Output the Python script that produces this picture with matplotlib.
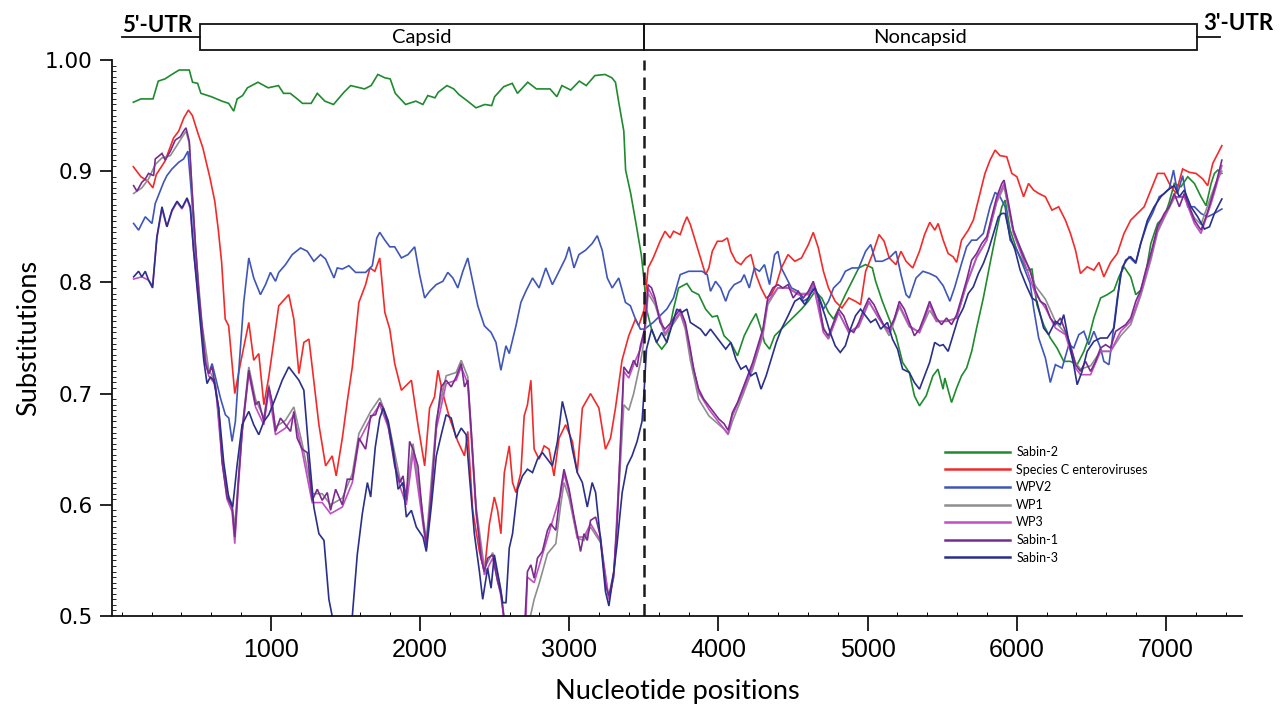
import matplotlib
matplotlib.use("Agg")
import matplotlib.pyplot as plt
from matplotlib.patches import Rectangle
from matplotlib.ticker import MultipleLocator
from matplotlib import font_manager

# ---------------- data (nucleotide position, substitution value) ----------------
sabin2 = [(78,.962),(129,.965),(210,.965),(245,.981),(290,.983),(336,.987),(385,.991),(453,.991),(475,.980),(509,.979),
(531,.970),(601,.967),(672,.963),(717,.961),(751,.954),(774,.965),(810,.968),(843,.975),(913,.980),(982,.975),
(1051,.977),(1085,.970),(1130,.970),(1177,.965),(1212,.961),(1270,.961),(1311,.970),(1362,.963),(1420,.960),(1490,.971),
(1535,.977),(1628,.974),(1672,.977),(1717,.987),(1764,.984),(1800,.983),(1834,.970),(1903,.960),(1972,.963),(2019,.960),
(2052,.968),(2100,.966),(2122,.971),(2180,.977),(2226,.974),(2260,.969),(2319,.963),(2375,.957),(2434,.960),(2480,.959),
(2500,.967),(2561,.976),(2618,.979),(2653,.970),(2722,.980),(2780,.974),(2871,.974),(2917,.967),(2951,.977),(3010,.973),
(3068,.981),(3114,.977),(3172,.986),(3240,.987),(3286,.984),(3310,.980),(3332,.962),(3366,.936),(3378,.901),(3412,.880),
(3445,.855),(3483,.825),(3500,.804),(3518,.776),(3552,.758),(3586,.746),(3620,.740),(3654,.746),(3699,.776),(3733,.795),
(3789,.799),(3823,.792),(3868,.789),(3914,.776),(3959,.769),(3993,.770),(4038,.752),(4083,.746),(4128,.734),(4173,.752),
(4218,.764),(4252,.772),(4286,.758),(4309,.746),(4343,.740),(4377,.752),(4422,.758),(4467,.764),(4512,.770),(4557,.776),
(4602,.783),(4648,.792),(4693,.786),(4738,.773),(4772,.767),(4806,.776),(4851,.789),(4896,.801),(4941,.813),(4986,.816),
(5032,.813),(5054,.801),(5099,.783),(5145,.767),(5190,.752),(5235,.728),(5280,.719),(5314,.698),(5348,.689),(5393,.698),
(5438,.716),(5472,.722),(5506,.704),(5518,.714),(5563,.692),(5597,.705),(5630,.716),(5664,.723),(5698,.738),(5731,.759),
(5776,.786),(5821,.817),(5866,.847),(5900,.868),(5922,.874),(5956,.847),(6001,.829),(6068,.811),(6102,.812),(6135,.780),
(6180,.762),(6225,.750),(6270,.741),(6315,.729),(6360,.729),(6405,.726),(6450,.738),(6483,.750),(6517,.768),(6562,.786),
(6607,.789),(6652,.793),(6685,.805),(6719,.814),(6764,.805),(6798,.789),(6831,.793),(6865,.808),(6899,.835),(6944,.853),
(6989,.859),(7022,.872),(7056,.889),(7101,.886),(7146,.895),(7191,.889),(7235,.877),(7269,.869),(7303,.889),(7325,.898),
(7348,.901),(7375,.898)]

species_c = [(78,.904),(129,.895),(175,.891),(209,.885),(232,.897),(290,.909),(348,.930),(382,.936),(417,.948),(447,.955),
(474,.950),(509,.935),(544,.921),(590,.895),(624,.873),(647,.848),(670,.818),(694,.767),(717,.761),(758,.700),
(796,.727),(852,.764),(885,.730),(919,.736),(953,.690),(986,.715),(1053,.779),(1120,.789),(1154,.767),(1188,.718),
(1221,.746),(1255,.749),(1277,.724),(1322,.672),(1367,.635),(1411,.644),(1438,.626),(1479,.660),(1512,.693),(1546,.724),
(1590,.782),(1635,.798),(1664,.813),(1697,.810),(1730,.822),(1764,.773),(1797,.758),(1830,.727),(1875,.703),(1942,.712),
(1986,.672),(2031,.635),(2064,.687),(2097,.697),(2120,.721),(2153,.700),(2198,.678),(2253,.657),(2298,.644),(2320,.666),
(2353,.595),(2398,.558),(2431,.540),(2465,.583),(2498,.607),(2520,.595),(2542,.574),(2565,.629),(2598,.653),(2620,.620),
(2643,.611),(2676,.629),(2698,.680),(2720,.690),(2743,.712),(2765,.650),(2798,.641),(2832,.653),(2865,.650),(2898,.626),
(2932,.660),(2976,.672),(3021,.657),(3054,.629),(3088,.687),(3143,.700),(3199,.687),(3243,.650),(3277,.660),(3310,.687),
(3354,.730),(3399,.752),(3444,.767),(3466,.761),(3501,.775),(3529,.813),(3563,.822),(3609,.837),(3642,.846),(3676,.840),
(3699,.846),(3744,.843),(3767,.852),(3789,.859),(3812,.852),(3846,.837),(3880,.822),(3914,.807),(3936,.813),(3959,.828),
(3993,.837),(4026,.837),(4060,.840),(4083,.828),(4117,.819),(4151,.816),(4185,.822),(4218,.825),(4252,.807),(4286,.795),
(4320,.786),(4354,.789),(4388,.798),(4422,.813),(4467,.825),(4512,.819),(4557,.822),(4603,.834),(4636,.845),(4670,.831),
(4704,.810),(4738,.795),(4783,.783),(4828,.777),(4874,.786),(4919,.783),(4953,.780),(4987,.810),(5032,.825),(5077,.843),
(5111,.837),(5145,.822),(5190,.816),(5224,.828),(5258,.819),(5303,.813),(5348,.828),(5382,.843),(5417,.854),(5451,.847),
(5473,.853),(5507,.838),(5540,.826),(5574,.823),(5597,.818),(5630,.838),(5675,.847),(5709,.856),(5754,.880),(5787,.898),
(5821,.910),(5855,.919),(5888,.914),(5933,.913),(5967,.898),(6001,.895),(6046,.877),(6079,.889),(6113,.883),(6147,.880),
(6192,.877),(6236,.865),(6281,.868),(6326,.856),(6360,.844),(6394,.829),(6427,.808),(6472,.814),(6517,.811),(6551,.818),
(6584,.805),(6629,.818),(6674,.826),(6719,.844),(6764,.856),(6809,.862),(6854,.868),(6899,.883),(6944,.898),(6989,.898),
(7022,.889),(7067,.880),(7112,.902),(7157,.899),(7202,.898),(7247,.893),(7280,.887),(7314,.907),(7375,.923)]

wpv2 = [(80,.853),(113,.847),(158,.859),(203,.853),(225,.871),(281,.890),(303,.896),(337,.902),(382,.908),(415,.911),
(444,.918),(467,.881),(494,.829),(527,.773),(561,.730),(583,.718),(606,.727),(628,.715),(662,.696),(695,.681),
(718,.678),(740,.657),(762,.675),(785,.721),(818,.782),(852,.822),(885,.804),(930,.789),(964,.798),(997,.809),
(1031,.801),(1053,.809),(1098,.816),(1143,.825),(1199,.831),(1244,.828),(1288,.819),(1333,.825),(1367,.821),(1423,.804),
(1445,.813),(1479,.812),(1523,.815),(1568,.809),(1635,.809),(1680,.815),(1710,.840),(1730,.845),(1764,.838),(1797,.832),
(1830,.832),(1875,.822),(1919,.825),(1964,.832),(1997,.807),(2031,.786),(2064,.792),(2108,.798),(2153,.801),(2186,.809),
(2220,.804),(2253,.795),(2287,.810),(2320,.822),(2353,.801),(2387,.779),(2431,.761),(2476,.755),(2509,.746),(2542,.721),
(2576,.743),(2598,.736),(2643,.761),(2676,.782),(2709,.792),(2754,.804),(2798,.795),(2843,.813),(2887,.798),(2932,.810),
(2976,.822),(2999,.832),(3032,.813),(3065,.825),(3110,.829),(3154,.835),(3188,.842),(3221,.829),(3255,.804),(3288,.795),
(3332,.804),(3377,.782),(3410,.779),(3444,.767),(3477,.758),(3505,.758),(3563,.764),(3609,.770),(3654,.776),(3699,.786),
(3744,.807),(3801,.810),(3891,.810),(3925,.807),(3947,.792),(3981,.801),(4015,.795),(4049,.783),(4072,.792),(4106,.798),
(4151,.801),(4173,.807),(4207,.795),(4241,.813),(4275,.810),(4309,.816),(4343,.798),(4377,.825),(4399,.828),(4422,.813),
(4456,.804),(4490,.795),(4535,.792),(4569,.783),(4603,.786),(4636,.795),(4670,.789),(4704,.776),(4738,.783),(4772,.795),
(4817,.801),(4851,.810),(4896,.813),(4941,.813),(4987,.828),(5021,.834),(5054,.819),(5099,.819),(5145,.822),(5190,.828),
(5224,.807),(5258,.789),(5280,.786),(5325,.804),(5371,.810),(5416,.808),(5462,.805),(5507,.797),(5552,.783),(5585,.796),
(5630,.817),(5664,.832),(5698,.838),(5731,.838),(5776,.844),(5821,.868),(5855,.881),(5888,.877),(5922,.868),(5956,.838),
(6001,.829),(6046,.814),(6090,.799),(6113,.777),(6147,.750),(6192,.732),(6225,.710),(6259,.726),(6304,.723),(6349,.744),
(6382,.741),(6416,.753),(6450,.756),(6483,.744),(6517,.756),(6562,.741),(6584,.729),(6618,.726),(6641,.750),(6674,.786),
(6708,.814),(6753,.823),(6798,.817),(6831,.835),(6876,.853),(6910,.862),(6955,.877),(6989,.880),(7022,.884),(7051,.901),
(7078,.880),(7112,.896),(7146,.868),(7191,.868),(7235,.862),(7280,.859),(7325,.862),(7375,.866)]

wp1 = [(80,.880),(135,.885),(180,.893),(225,.906),(270,.912),(326,.914),(393,.928),(431,.936),(453,.925),(494,.833),
(538,.763),(583,.722),(628,.710),(673,.645),(706,.612),(740,.600),(758,.580),(780,.620),(807,.668),(852,.724),
(897,.695),(953,.678),(986,.708),(1031,.670),(1098,.676),(1154,.688),(1210,.655),(1277,.610),(1344,.610),(1400,.600),
(1479,.606),(1546,.628),(1590,.664),(1669,.684),(1730,.696),(1786,.676),(1864,.624),(1908,.610),(1953,.655),(2020,.590),
(2042,.568),(2109,.676),(2175,.716),(2242,.719),(2276,.730),(2320,.715),(2376,.598),(2431,.543),(2487,.557),(2542,.524),
(2565,.497),(2600,.470),(2700,.470),(2740,.500),(2765,.515),(2800,.530),(2854,.556),(2910,.565),(2943,.600),(2965,.620),
(2999,.606),(3054,.570),(3099,.568),(3143,.580),(3210,.566),(3266,.515),(3299,.535),(3344,.640),(3366,.690),(3399,.685),
(3432,.700),(3477,.728),(3505,.750),(3529,.790),(3575,.780),(3642,.752),(3710,.765),(3744,.772),(3778,.758),(3812,.730),
(3868,.695),(3936,.680),(4004,.672),(4038,.668),(4065,.663),(4094,.675),(4162,.698),(4230,.722),(4298,.752),(4331,.780),
(4399,.795),(4467,.795),(4535,.790),(4603,.790),(4636,.798),(4704,.760),(4738,.750),(4806,.773),(4874,.755),(4941,.760),
(5009,.782),(5077,.768),(5145,.752),(5213,.778),(5280,.760),(5348,.755),(5416,.775),(5462,.765),(5529,.765),(5597,.768),
(5664,.798),(5731,.822),(5799,.838),(5866,.872),(5915,.886),(5978,.845),(6046,.825),(6124,.797),(6192,.785),(6259,.765),
(6326,.754),(6394,.728),(6427,.722),(6495,.725),(6562,.738),(6629,.738),(6697,.752),(6764,.762),(6831,.788),(6899,.820),
(6944,.845),(6989,.858),(7056,.876),(7123,.877),(7191,.858),(7235,.852),(7303,.878),(7336,.890),(7375,.900)]

wp3 = [(80,.803),(135,.805),(180,.802),(207,.797),(236,.840),(270,.866),(303,.850),(337,.864),(371,.872),(404,.866),
(438,.875),(460,.866),(482,.828),(516,.785),(550,.740),(583,.716),(628,.708),(673,.640),(706,.605),(740,.594),
(758,.565),(780,.612),(807,.664),(852,.718),(897,.688),(953,.672),(986,.703),(1031,.663),(1098,.669),(1154,.681),
(1210,.648),(1277,.602),(1344,.602),(1400,.592),(1479,.598),(1546,.620),(1590,.657),(1669,.678),(1730,.690),(1786,.670),
(1864,.617),(1908,.600),(1953,.647),(2020,.582),(2042,.561),(2109,.668),(2175,.709),(2242,.712),(2276,.724),(2320,.709),
(2376,.592),(2431,.537),(2487,.552),(2542,.518),(2560,.500),(2600,.470),(2690,.470),(2710,.500),(2720,.535),(2765,.530),
(2820,.555),(2876,.580),(2943,.610),(2965,.628),(2999,.611),(3054,.571),(3099,.571),(3143,.583),(3210,.568),(3266,.515),
(3299,.537),(3344,.652),(3366,.720),(3399,.714),(3432,.726),(3477,.740),(3505,.755),(3529,.795),(3575,.783),(3642,.754),
(3710,.767),(3744,.773),(3778,.761),(3812,.737),(3868,.701),(3936,.686),(4004,.674),(4065,.664),(4094,.680),(4162,.701),
(4230,.725),(4298,.755),(4331,.783),(4399,.795),(4467,.795),(4535,.789),(4603,.789),(4636,.798),(4704,.755),(4738,.749),
(4806,.773),(4874,.755),(4941,.761),(5009,.783),(5077,.767),(5145,.755),(5213,.780),(5280,.761),(5348,.755),(5416,.780),
(5462,.765),(5529,.765),(5597,.768),(5664,.799),(5731,.823),(5799,.838),(5866,.874),(5915,.889),(5978,.844),(6046,.820),
(6124,.790),(6192,.777),(6259,.759),(6326,.753),(6394,.723),(6427,.717),(6495,.717),(6562,.738),(6629,.738),(6697,.756),
(6764,.765),(6831,.790),(6899,.823),(6944,.847),(6989,.859),(7056,.877),(7123,.877),(7191,.853),(7235,.844),(7303,.871),
(7336,.886),(7375,.905)]

sabin1 = [(80,.887),(102,.882),(135,.890),(158,.893),(180,.898),(214,.896),(225,.911),(270,.916),(292,.910),(326,.918),
(359,.928),(393,.931),(415,.936),(431,.939),(453,.927),(471,.884),(494,.835),(516,.792),(538,.761),(561,.727),
(583,.718),(606,.724),(628,.706),(650,.687),(673,.638),(706,.607),(740,.598),(758,.571),(780,.617),(807,.666),
(852,.721),(874,.706),(897,.690),(919,.693),(953,.675),(986,.706),(1008,.693),(1031,.666),(1064,.678),(1098,.672),
(1132,.666),(1154,.684),(1176,.660),(1210,.650),(1244,.647),(1277,.604),(1311,.614),(1344,.604),(1378,.611),(1400,.595),
(1434,.614),(1479,.600),(1512,.623),(1546,.623),(1590,.660),(1635,.650),(1669,.680),(1702,.681),(1730,.692),(1753,.687),
(1786,.672),(1830,.635),(1864,.620),(1886,.626),(1908,.604),(1930,.657),(1953,.650),(1986,.635),(2020,.586),(2042,.564),
(2075,.607),(2109,.672),(2142,.706),(2175,.712),(2209,.706),(2242,.715),(2276,.727),(2298,.706),(2320,.712),(2342,.669),
(2376,.595),(2409,.552),(2431,.540),(2453,.552),(2487,.555),(2520,.531),(2542,.521),(2565,.495),(2590,.470),(2680,.470),
(2705,.500),(2720,.540),(2743,.546),(2765,.534),(2787,.552),(2820,.558),(2854,.577),(2876,.583),(2910,.577),(2943,.614),
(2965,.632),(2999,.614),(3032,.589),(3054,.574),(3076,.558),(3099,.574),(3121,.568),(3143,.586),(3177,.589),(3210,.571),
(3243,.528),(3266,.518),(3299,.540),(3321,.583),(3344,.657),(3366,.724),(3399,.718),(3432,.730),(3455,.724),(3477,.743),
(3505,.758),(3529,.798),(3552,.795),(3575,.786),(3609,.764),(3642,.758),(3676,.763),(3710,.770),(3744,.776),(3778,.764),
(3812,.740),(3834,.722),(3868,.704),(3902,.695),(3936,.689),(3970,.683),(4004,.677),(4038,.673),(4065,.667),(4094,.683),
(4128,.692),(4162,.704),(4196,.716),(4230,.728),(4264,.743),(4298,.758),(4331,.786),(4365,.795),(4399,.798),(4433,.795),
(4467,.798),(4501,.786),(4535,.792),(4569,.786),(4603,.792),(4636,.801),(4670,.786),(4704,.758),(4738,.752),(4772,.764),
(4806,.776),(4840,.770),(4874,.758),(4907,.755),(4941,.764),(4975,.776),(5009,.786),(5043,.780),(5077,.770),(5111,.761),
(5145,.758),(5179,.767),(5213,.783),(5246,.776),(5280,.764),(5314,.752),(5348,.758),(5382,.770),(5416,.783),(5462,.768),
(5496,.762),(5529,.768),(5563,.762),(5597,.771),(5630,.786),(5664,.802),(5698,.820),(5731,.826),(5765,.835),(5799,.841),
(5832,.859),(5866,.877),(5900,.889),(5915,.892),(5945,.871),(5978,.847),(6012,.835),(6046,.823),(6090,.811),(6124,.793),
(6158,.783),(6192,.780),(6225,.768),(6259,.762),(6293,.768),(6326,.756),(6360,.744),(6394,.726),(6427,.720),(6461,.729),
(6495,.720),(6528,.729),(6562,.741),(6596,.744),(6629,.741),(6663,.756),(6697,.759),(6730,.762),(6764,.768),(6798,.783),
(6831,.793),(6865,.811),(6899,.826),(6944,.850),(6989,.862),(7022,.868),(7056,.880),(7090,.868),(7123,.880),(7157,.868),
(7191,.856),(7235,.847),(7269,.859),(7303,.874),(7336,.889),(7375,.910)]

sabin3 = [(80,.805),(113,.810),(135,.805),(158,.810),(180,.802),(207,.795),(236,.841),(270,.868),(303,.850),(337,.865),
(371,.873),(404,.867),(438,.876),(460,.868),(482,.829),(516,.779),(550,.730),(572,.709),(594,.715),(617,.712),
(650,.687),(684,.638),(717,.607),(744,.598),(773,.635),(807,.672),(852,.684),(885,.672),(919,.663),(953,.675),
(986,.681),(1031,.696),(1076,.712),(1120,.724),(1154,.718),(1188,.712),(1221,.703),(1255,.647),(1288,.598),(1322,.574),
(1356,.568),(1389,.515),(1411,.500),(1440,.470),(1520,.470),(1546,.500),(1579,.555),(1613,.592),(1647,.620),(1669,.607),
(1700,.652),(1730,.678),(1753,.687),(1786,.675),(1819,.650),(1853,.614),(1886,.620),(1908,.589),(1942,.595),(1975,.580),
(2020,.571),(2042,.558),(2075,.598),(2109,.644),(2142,.663),(2175,.681),(2209,.678),(2242,.660),(2276,.669),(2309,.663),
(2331,.626),(2364,.574),(2398,.540),(2420,.515),(2453,.543),(2476,.525),(2498,.555),(2531,.531),(2554,.512),(2576,.512),
(2598,.561),(2620,.574),(2654,.614),(2687,.626),(2720,.632),(2754,.629),(2787,.641),(2820,.647),(2854,.641),(2887,.635),
(2921,.657),(2954,.693),(2987,.675),(3021,.650),(3054,.629),(3088,.620),(3121,.598),(3154,.620),(3177,.611),(3210,.568),
(3243,.522),(3266,.509),(3299,.540),(3321,.565),(3355,.611),(3388,.635),(3421,.644),(3455,.657),(3488,.675),(3501,.700),
(3518,.740),(3552,.758),(3586,.746),(3620,.755),(3654,.746),(3688,.761),(3721,.776),(3755,.773),(3789,.776),(3812,.764),
(3846,.761),(3880,.758),(3914,.752),(3947,.758),(3981,.752),(4015,.746),(4049,.740),(4083,.746),(4117,.731),(4151,.722),
(4185,.725),(4218,.716),(4252,.719),(4286,.704),(4320,.716),(4354,.731),(4388,.746),(4422,.758),(4467,.770),(4512,.783),
(4546,.786),(4580,.780),(4614,.789),(4648,.795),(4682,.783),(4715,.770),(4749,.755),(4783,.743),(4817,.737),(4851,.743),
(4885,.758),(4919,.770),(4953,.776),(4987,.770),(5021,.764),(5054,.767),(5088,.758),(5133,.764),(5167,.749),(5201,.740),
(5235,.722),(5280,.719),(5314,.710),(5348,.704),(5382,.716),(5416,.728),(5450,.746),(5484,.743),(5507,.744),(5540,.738),
(5574,.753),(5608,.768),(5642,.777),(5675,.790),(5709,.796),(5743,.808),(5776,.817),(5810,.829),(5844,.844),(5877,.859),
(5900,.862),(5922,.862),(5956,.841),(5989,.829),(6023,.811),(6068,.796),(6102,.786),(6135,.783),(6180,.759),(6214,.753),
(6259,.765),(6293,.762),(6315,.771),(6349,.747),(6382,.726),(6405,.708),(6438,.720),(6472,.738),(6517,.747),(6562,.750),
(6607,.750),(6652,.759),(6697,.808),(6730,.820),(6764,.823),(6798,.818),(6831,.835),(6876,.856),(6921,.868),(6966,.877),
(7011,.883),(7056,.887),(7090,.877),(7123,.883),(7168,.868),(7213,.859),(7258,.848),(7292,.850),(7325,.862),(7375,.875)]

series_names = ["Sabin-2", "Species C enteroviruses", "WPV2", "WP1", "WP3", "Sabin-1", "Sabin-3"]
series_data = [sabin2, species_c, wpv2, wp1, wp3, sabin1, sabin3]
series_colors = ["#1f8a2e", "#f42a2a", "#3f56b8", "#8e8e8e", "#c04fc4", "#7a2b8e", "#2a2f8a"]

x_ticks = [1000, 2000, 3000, 4000, 5000, 6000, 7000]
x_tick_labels = ["1000", "2000", "3000", "4000", "5000", "6000", "7000"]
y_ticks = [0.5, 0.6, 0.7, 0.8, 0.9, 1.0]
y_tick_labels = ["0.5", "0.6", "0.7", "0.8", "0.9", "1.00"]

region_labels = ["5'-UTR", "Capsid", "Noncapsid", "3'-UTR"]
region_bounds = [0, 524, 3500, 7206, 7360]   # genome region boundaries (nt)
boundary_nt = 3500

# ---------------- fonts ----------------
names = {f.name for f in font_manager.fontManager.ttflist}
narrow = "Liberation Sans Narrow" if "Liberation Sans Narrow" in names else "Liberation Sans"
label_font = "Lato" if "Lato" in names else "DejaVu Sans"

# ---------------- figure ----------------
W, H = 1288, 710
fig = plt.figure(figsize=(W / 100, H / 100), dpi=100)
ax = fig.add_axes([112 / W, 94 / H, 1130 / W, 556 / H])

for name, data, col in zip(series_names, series_data, series_colors):
    xs = [p[0] for p in data]
    ys = [p[1] for p in data]
    ax.plot(xs, ys, color=col, lw=1.2, label=name, solid_joinstyle="miter")

ax.axvline(boundary_nt, color="#1a1a1a", lw=1.8, linestyle=(0, (5, 2.8)))

ax.set_xlim(-65, 7510)
ax.set_ylim(0.5, 1.0)
ax.set_xticks(x_ticks)
ax.set_xticklabels(x_tick_labels, fontfamily=narrow, fontsize=18)
ax.set_yticks(y_ticks)
ax.set_yticklabels(y_tick_labels, fontfamily="DejaVu Sans", fontsize=15.5)
ax.xaxis.set_minor_locator(MultipleLocator(200))
ax.yaxis.set_minor_locator(MultipleLocator(0.005))
ax.tick_params(axis="x", which="major", direction="out", length=11, width=1.2, pad=5)
ax.tick_params(axis="x", which="minor", direction="in", length=3, width=0.7)
ax.tick_params(axis="y", which="major", direction="out", length=9, width=1.2, pad=5)
ax.tick_params(axis="y", which="minor", direction="in", length=3, width=0.6)
for s in ["top", "right"]:
    ax.spines[s].set_visible(False)
for s in ["left", "bottom"]:
    ax.spines[s].set_linewidth(1.3)
    ax.spines[s].set_color("#111111")

ax.set_xlabel("Nucleotide positions", fontfamily=label_font, fontsize=19.5, labelpad=12)
ax.set_ylabel("Substitutions", fontfamily=label_font, fontsize=19.5, labelpad=3)

# ---------------- genome map above the plot ----------------
tr = ax.get_xaxis_transform()
y_bot, y_top = 1.018, 1.0647
y_mid = (y_bot + y_top) / 2
for lab, x0, x1 in zip(region_labels[1:3], region_bounds[1:3], region_bounds[2:4]):
    ax.add_patch(Rectangle((x0, y_bot), x1 - x0, y_top - y_bot, transform=tr,
                           fill=False, lw=1.3, edgecolor="#111111", clip_on=False))
    ax.text((x0 + x1) / 2, y_mid, lab, transform=tr, ha="center", va="center",
            fontsize=14.5, fontfamily=label_font, clip_on=False)
ax.plot([region_bounds[0], region_bounds[1]], [y_mid, y_mid], transform=tr,
        color="#111111", lw=1.3, clip_on=False)
ax.plot([region_bounds[3], region_bounds[4]], [y_mid, y_mid], transform=tr,
        color="#111111", lw=1.3, clip_on=False)
ax.text(region_bounds[0], 1.050, region_labels[0], transform=tr, ha="left", va="baseline",
        fontsize=16, fontweight="bold", fontfamily=label_font, clip_on=False)
ax.text(7247, 1.054, region_labels[3], transform=tr, ha="left", va="baseline",
        fontsize=16, fontweight="bold", fontfamily=label_font, clip_on=False)

# ---------------- legend ----------------
leg = ax.legend(loc="upper left", bbox_to_anchor=(945 / W, 1 - 446 / H),
                bbox_transform=fig.transFigure, frameon=False, borderpad=0,
                borderaxespad=0, handlelength=5.2, handletextpad=0.5,
                labelspacing=0.45, prop={"family": label_font, "size": 9})
for h in leg.get_lines():
    h.set_linewidth(1.8)

fig.savefig("out.png", dpi=100)
